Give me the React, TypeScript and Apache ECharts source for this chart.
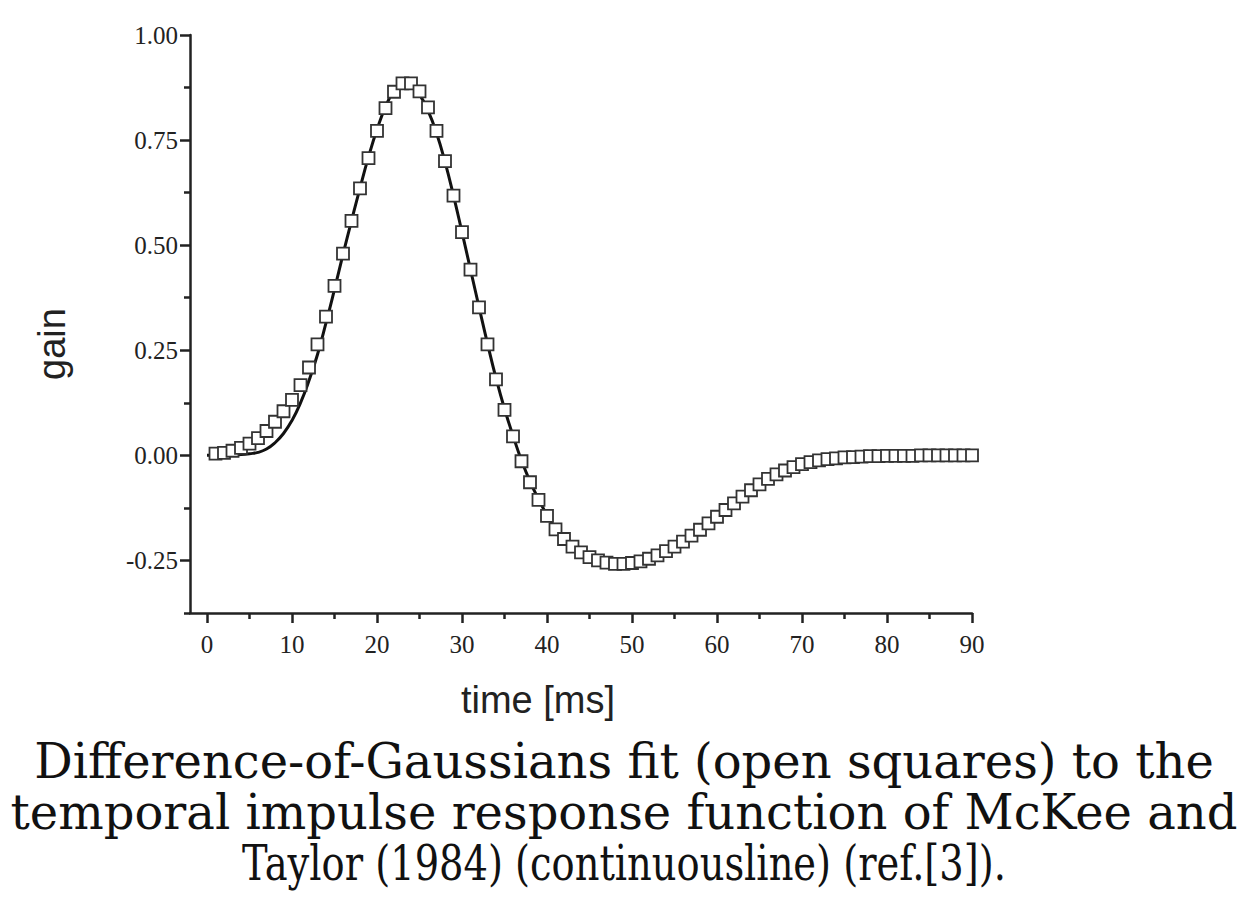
import React, { useEffect, useRef } from "react";
import * as echarts from "echarts";

// Difference-of-Gaussians fit (open squares), sampled every 1 ms
const fitTime = [
  1, 2, 3, 4, 5, 6, 7, 8, 9, 10, 11, 12, 13, 14, 15, 16, 17, 18, 19, 20,
  21, 22, 23, 24, 25, 26, 27, 28, 29, 30, 31, 32, 33, 34, 35, 36, 37, 38, 39, 40,
  41, 42, 43, 44, 45, 46, 47, 48, 49, 50, 51, 52, 53, 54, 55, 56, 57, 58, 59, 60,
  61, 62, 63, 64, 65, 66, 67, 68, 69, 70, 71, 72, 73, 74, 75, 76, 77, 78, 79, 80,
  81, 82, 83, 84, 85, 86, 87, 88, 89, 90,
];
const fitGain = [
  0.004, 0.006, 0.011, 0.018, 0.028, 0.041, 0.058, 0.08, 0.105, 0.132,
  0.167, 0.209, 0.264, 0.33, 0.403, 0.48, 0.558, 0.635, 0.707, 0.772,
  0.826, 0.865, 0.885, 0.885, 0.866, 0.828, 0.772, 0.7, 0.618, 0.531,
  0.442, 0.352, 0.264, 0.181, 0.108, 0.045, -0.014, -0.064, -0.106, -0.144,
  -0.176, -0.199, -0.217, -0.231, -0.242, -0.25, -0.255, -0.258, -0.258, -0.256,
  -0.252, -0.246, -0.238, -0.228, -0.217, -0.205, -0.191, -0.177, -0.162, -0.146,
  -0.13, -0.114, -0.098, -0.083, -0.069, -0.056, -0.045, -0.036, -0.028, -0.021,
  -0.016, -0.012, -0.009, -0.007, -0.005, -0.004, -0.003, -0.002, -0.002, -0.001,
  -0.001, -0.001, -0.001, 0, 0, 0, 0, 0, 0, 0,
];

// McKee and Taylor (1984) temporal impulse response (continuous line)
const lineTime = [
  0, 1, 2, 3, 4, 5, 6, 7, 8, 9, 10, 11, 12, 13, 14, 15, 16, 17, 18, 19, 20,
  21, 22, 23, 24, 25, 26, 27, 28, 29, 30, 31, 32, 33, 34, 35, 36, 37, 38, 39, 40,
  41, 42, 43, 44, 45, 46, 47, 48, 49, 50, 51, 52, 53, 54, 55, 56, 57, 58, 59, 60,
  61, 62, 63, 64, 65, 66, 67, 68, 69, 70, 71, 72, 73, 74, 75, 76, 77, 78, 79, 80,
  81, 82, 83, 84, 85, 86, 87, 88, 89, 90,
];
const lineGain = [
  0, 0, 0, 0.001, 0.002, 0.004, 0.007, 0.015, 0.03, 0.052, 0.083,
  0.125, 0.178, 0.24, 0.315, 0.395, 0.478, 0.558, 0.636, 0.71, 0.775,
  0.829, 0.867, 0.884, 0.88, 0.858, 0.82, 0.767, 0.698, 0.618, 0.531,
  0.442, 0.353, 0.266, 0.184, 0.111, 0.047, -0.012, -0.062, -0.104, -0.142,
  -0.174, -0.2, -0.22, -0.235, -0.246, -0.254, -0.258, -0.26, -0.259, -0.257,
  -0.253, -0.247, -0.239, -0.23, -0.219, -0.207, -0.193, -0.179, -0.164, -0.148,
  -0.132, -0.116, -0.1, -0.085, -0.071, -0.058, -0.047, -0.038, -0.03, -0.023,
  -0.018, -0.013, -0.01, -0.007, -0.005, -0.004, -0.003, -0.002, -0.001, -0.001,
  0, 0, 0, 0, 0, 0, 0, 0, 0, 0,
];

const xMajorTicks = [0, 10, 20, 30, 40, 50, 60, 70, 80, 90];
const xMinorTicks = [5, 15, 25, 35, 45, 55, 65, 75, 85];
const yMajorTicks = [-0.25, 0, 0.25, 0.5, 0.75, 1];
const yMinorTicks = [-0.375, -0.125, 0.125, 0.375, 0.625, 0.875];

const captionLines = [
  "Difference-of-Gaussians fit (open squares) to the",
  "temporal impulse response function of McKee and",
  "Taylor (1984) (continuousline) (ref.[3]).",
];
const captionScaleX = [1, 1, 0.8];

const axisColor = "#222";
const serif = "'Liberation Serif', 'Times New Roman', serif";
const captionFont = "'DejaVu Serif', 'Liberation Serif', serif";
const sans = "'Liberation Sans', Arial, sans-serif";

export default function App() {
  const ref = useRef<HTMLDivElement>(null);

  useEffect(() => {
    if (!ref.current) return;
    const chart = echarts.init(ref.current, null, { renderer: "svg" });

    const tickStyle = { color: axisColor, width: 2.5 };

    const option: any = {
      animation: false,
      backgroundColor: "#fff",
      grid: { left: 190, top: 35, width: 782, height: 578, containLabel: false },
      xAxis: [
        {
          type: "value",
          min: -2,
          max: 90,
          position: "bottom",
          axisLine: { show: true, onZero: false, lineStyle: { color: axisColor, width: 2.5 } },
          axisTick: { show: true, customValues: xMajorTicks, length: 10, lineStyle: tickStyle },
          axisLabel: {
            customValues: xMajorTicks,
            margin: 19,
            fontFamily: serif,
            fontSize: 25,
            color: axisColor,
          },
          splitLine: { show: false },
        },
        {
          type: "value",
          min: -2,
          max: 90,
          position: "bottom",
          axisLine: { show: false, onZero: false },
          axisTick: { show: true, customValues: xMinorTicks, length: 6, lineStyle: tickStyle },
          axisLabel: { show: false },
          splitLine: { show: false },
        },
      ],
      yAxis: [
        {
          type: "value",
          min: -0.375,
          max: 1,
          position: "left",
          axisLine: { show: true, onZero: false, lineStyle: { color: axisColor, width: 2.5 } },
          axisTick: { show: true, customValues: yMajorTicks, length: 10, lineStyle: tickStyle },
          axisLabel: {
            customValues: yMajorTicks,
            margin: 12,
            fontFamily: serif,
            fontSize: 25,
            color: axisColor,
            formatter: (v: number) => v.toFixed(2),
          },
          splitLine: { show: false },
        },
        {
          type: "value",
          min: -0.375,
          max: 1,
          position: "left",
          axisLine: { show: false, onZero: false },
          axisTick: { show: true, customValues: yMinorTicks, length: 6, lineStyle: tickStyle },
          axisLabel: { show: false },
          splitLine: { show: false },
        },
      ],
      series: [
        {
          type: "line",
          xAxisIndex: 0,
          yAxisIndex: 0,
          data: lineTime.map((t, i) => [t, lineGain[i]]),
          smooth: true,
          showSymbol: false,
          lineStyle: { color: "#111", width: 3 },
          z: 2,
        },
        {
          type: "scatter",
          xAxisIndex: 0,
          yAxisIndex: 0,
          data: fitTime.map((t, i) => [t, fitGain[i]]),
          symbol: "rect",
          symbolSize: 12,
          itemStyle: { color: "#fff", borderColor: "#333", borderWidth: 1.8, opacity: 1 },
          z: 3,
        },
      ],
      graphic: [
        {
          type: "text",
          x: 52,
          y: 344,
          rotation: Math.PI / 2,
          style: {
            text: "gain",
            fontFamily: sans,
            fontSize: 38,
            fill: "#222",
            align: "center",
            verticalAlign: "middle",
          },
        },
        {
          type: "text",
          x: 538,
          y: 700,
          style: {
            text: "time [ms]",
            fontFamily: sans,
            fontSize: 38,
            fill: "#222",
            align: "center",
            verticalAlign: "middle",
          },
        },
        ...captionLines.map((line, i) => ({
          type: "text",
          x: 624,
          y: 761 + i * 51,
          scaleX: captionScaleX[i],
          style: {
            text: line,
            fontFamily: captionFont,
            fontSize: 48,
            fill: "#111",
            align: "center",
            verticalAlign: "middle",
          },
        })),
      ],
    };

    chart.setOption(option);
    return () => chart.dispose();
  }, []);

  return (
    <div
      ref={ref}
      style={{ position: "absolute", left: 0, top: 0, width: 1248, height: 918, background: "#fff" }}
    />
  );
}
